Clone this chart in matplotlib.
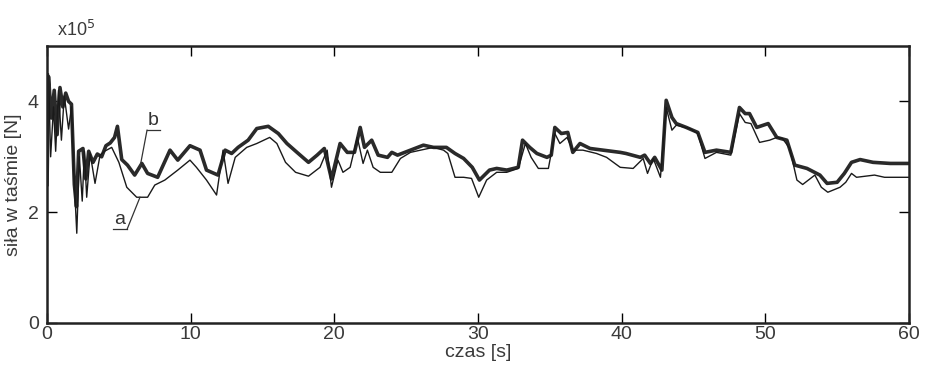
import matplotlib.pyplot as plt
import numpy as np

plt.rcParams['font.family'] = ['Liberation Sans Narrow', 'Liberation Sans', 'DejaVu Sans']

# force in the belt, units of 1e5 N
# curve b (thick)
t_b = [0, 0.1, 0.3, 0.5, 0.7, 0.9, 1.1, 1.3, 1.5, 1.7, 1.9, 2.05, 2.2, 2.5, 2.7, 2.9, 3.2,
       3.5, 3.8, 4.1, 4.4, 4.7, 4.9, 5.2, 5.6, 6.1, 6.6, 7.0, 7.7, 8.56, 9.1, 9.95, 10.65,
       11.1, 11.9, 12.4, 12.85, 13.3, 14.0, 14.6, 15.4, 16.1, 16.7, 17.4, 18.2, 18.8, 19.3,
       19.8, 20.4, 20.9, 21.4, 21.8, 22.1, 22.6, 23.05, 23.7, 24.0, 24.4, 25.3, 26.2, 26.9,
       27.8, 28.4, 29.0, 29.6, 30.1, 30.8, 31.3, 32.0, 32.8, 33.1, 33.6, 34.1, 34.8, 35.1,
       35.35, 35.8, 36.25, 36.6, 37.1, 37.8, 38.7, 39.9, 40.3, 41.3, 41.6, 42.0, 42.3, 42.8,
       43.1, 43.5, 43.8, 44.5, 45.3, 45.8, 46.6, 47.6, 48.2, 48.6, 48.9, 49.4, 50.2, 50.8,
       51.5, 52.05, 52.9, 53.8, 54.3, 55.0, 55.5, 56.0, 56.6, 57.5, 58.7, 60.0]
f_b = [2.5, 4.45, 3.7, 4.2, 3.4, 4.25, 3.9, 4.15, 4.0, 3.95, 2.5, 2.1, 3.1, 3.15, 2.6, 3.1, 2.9,
       3.05, 3.0, 3.2, 3.25, 3.35, 3.55, 2.95, 2.85, 2.67, 2.88, 2.7, 2.63, 3.12, 2.94, 3.2, 3.12,
       2.76, 2.67, 3.12, 3.06, 3.17, 3.3, 3.51, 3.55, 3.42, 3.24, 3.08, 2.9, 3.03, 3.15,
       2.6, 3.24, 3.08, 3.08, 3.53, 3.17, 3.3, 3.03, 2.99, 3.08, 3.03, 3.12, 3.21, 3.17,
       3.17, 3.06, 2.97, 2.81, 2.58, 2.76, 2.79, 2.76, 2.81, 3.3, 3.17, 3.06, 2.99, 3.03,
       3.53, 3.42, 3.44, 3.08, 3.24, 3.15, 3.12, 3.08, 3.06, 2.99, 3.03, 2.88, 2.99, 2.76,
       4.02, 3.71, 3.6, 3.53, 3.44, 3.08, 3.12, 3.08, 3.89, 3.78, 3.78, 3.53, 3.6, 3.35,
       3.3, 2.85, 2.79, 2.67, 2.52, 2.54, 2.7, 2.9, 2.95, 2.9, 2.88, 2.88]

# curve a (thin)
t_a = [0, 0.1, 0.25, 0.45, 0.6, 0.8, 1.0, 1.2, 1.5, 1.7, 1.85, 2.07, 2.25, 2.45, 2.6, 2.76,
       3.0, 3.34, 3.69, 4.0, 4.5, 5.0, 5.55, 6.24, 7.0, 7.5, 8.2, 9.1, 9.95, 10.4, 11.1, 11.8,
       12.25, 12.6, 13.1, 13.9, 14.6, 15.5, 16.0, 16.6, 17.3, 18.2, 19.0, 19.5, 19.8, 20.25,
       20.6, 21.1, 21.6, 22.0, 22.3, 22.7, 23.2, 24.0, 24.6, 25.3, 26.0, 26.9, 27.6, 27.9,
       28.4, 29.0, 29.55, 30.05, 30.6, 31.3, 32.0, 32.8, 33.3, 33.7, 34.2, 34.9, 35.35, 35.7,
       36.2, 36.6, 37.3, 38.25, 38.95, 39.9, 40.8, 41.5, 41.8, 42.2, 42.7, 43.1, 43.5, 43.8,
       44.75, 45.3, 45.8, 46.6, 47.6, 48.2, 48.6, 49.0, 49.6, 50.3, 50.8, 51.2, 51.7, 52.2,
       52.6, 53.45, 53.9, 54.35, 55.2, 55.6, 56.0, 56.35, 57.6, 58.3, 60.0]
f_a = [2.5, 4.5, 3.0, 3.9, 3.1, 4.2, 3.3, 4.1, 3.5, 3.9, 2.8, 1.62, 3.0, 2.2, 3.1, 2.27,
       3.06, 2.52, 3.03, 3.1, 3.17, 2.9, 2.45, 2.27, 2.27, 2.49, 2.58, 2.76, 2.94, 2.81, 2.58, 2.31,
       3.12, 2.52, 2.99, 3.17, 3.24, 3.35, 3.24, 2.9, 2.72, 2.65, 2.81, 3.12, 2.45, 2.94,
       2.72, 2.81, 3.35, 2.88, 3.12, 2.81, 2.72, 2.72, 2.97, 3.08, 3.12, 3.17, 3.12, 3.06,
       2.63, 2.63, 2.61, 2.27, 2.58, 2.72, 2.72, 2.79, 3.24, 2.99, 2.79, 2.79, 3.42, 3.24,
       3.35, 3.12, 3.12, 3.06, 2.99, 2.81, 2.79, 2.97, 2.70, 2.97, 2.63, 3.89, 3.48, 3.57,
       3.51, 3.42, 2.97, 3.08, 3.03, 3.78, 3.62, 3.6, 3.26, 3.3, 3.35, 3.33, 3.15, 2.58,
       2.5, 2.67, 2.45, 2.36, 2.45, 2.54, 2.7, 2.63, 2.67, 2.63, 2.63]

xticks = [0, 10, 20, 30, 40, 50, 60]
yticks = [0, 2, 4]

scale = 1e5
fig = plt.figure(figsize=(9.26, 3.74), dpi=100)
ax = fig.add_axes([0.0508, 0.1364, 0.9308, 0.7406])

ax.plot(t_b, np.array(f_b) * scale, color='#2a2a2a', lw=2.6, solid_joinstyle='round')
ax.plot(t_a, np.array(f_a) * scale, color='#1a1a1a', lw=1.0)

ax.set_xlim(0, 60)
ax.set_ylim(0, 5 * scale)
ax.set_xticks(xticks)
ax.set_xticklabels([str(v) for v in xticks])
ax.set_yticks([v * scale for v in yticks])
ax.set_yticklabels([str(v) for v in yticks])
ax.tick_params(direction='in', length=7, width=1, top=True, right=True,
               labelsize=14, labelcolor='#3a3a3a')
ax.tick_params(axis='x', pad=2)
ax.tick_params(axis='y', pad=6)
for s in ax.spines.values():
    s.set_linewidth(1.8)
    s.set_color('#222222')

ax.set_xlabel('czas [s]', fontsize=14, color='#3a3a3a', labelpad=1)
ax.set_ylabel('siła w taśmie [N]', fontsize=14, color='#3a3a3a', labelpad=4)
ax.text(0.012, 1.02, r'x10$^5$', transform=ax.transAxes, fontsize=13,
        color='#3a3a3a', ha='left', va='bottom')

# curve labels with underline and leader line
ax.text(5.08, 1.72 * scale, 'a', fontsize=14, color='#333333', ha='center', va='bottom')
ax.plot([4.6, 5.57], [1.69 * scale, 1.69 * scale], color='#333333', lw=0.9)
ax.plot([5.57, 6.47], [1.69 * scale, 2.27 * scale], color='#333333', lw=0.9)
ax.text(7.35, 3.51 * scale, 'b', fontsize=14, color='#333333', ha='center', va='bottom')
ax.plot([6.96, 7.86], [3.48 * scale, 3.48 * scale], color='#333333', lw=0.9)
ax.plot([6.96, 6.47], [3.48 * scale, 2.81 * scale], color='#333333', lw=0.9)

fig.savefig('out.png', dpi=100)
